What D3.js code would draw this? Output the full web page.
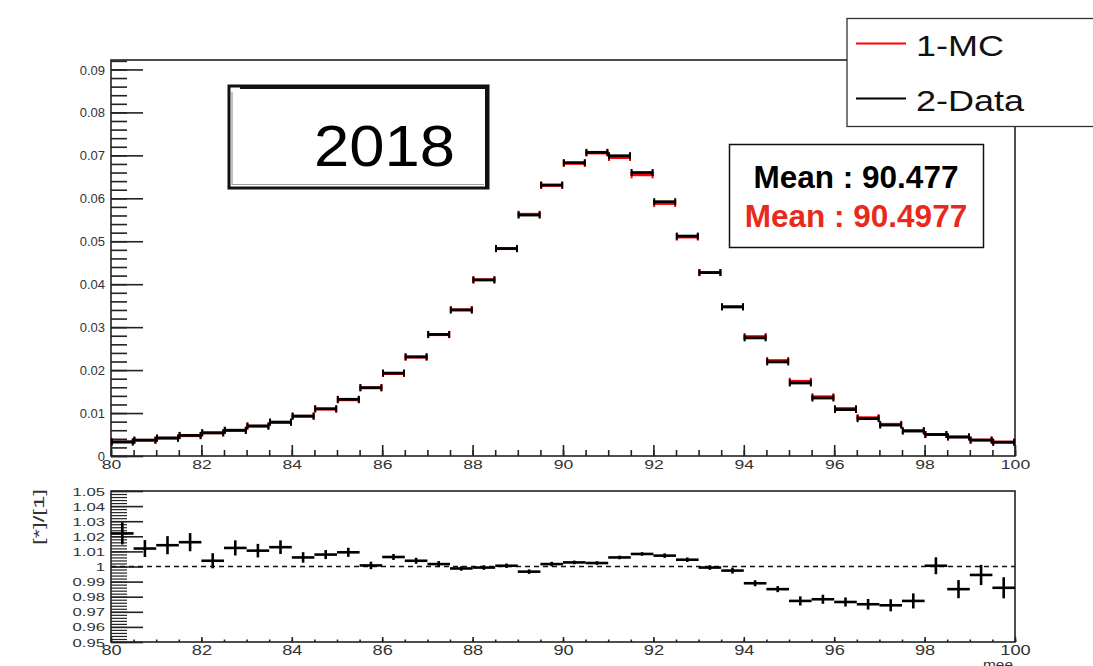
<!DOCTYPE html>
<html>
<head>
<meta charset="utf-8">
<script src="https://cdn.jsdelivr.net/npm/d3@7"></script>
<style>
  body { margin: 0; background: #fff; }
  text { font-family: "Liberation Sans", Arial, Helvetica, sans-serif; }
</style>
</head>
<body>
<svg id="chart" width="1093" height="666"></svg>
<script>
// Z -> ee invariant mass, 0.5 GeV bins from 80 to 100
const binLow = [80, 80.5, 81, 81.5, 82, 82.5, 83, 83.5, 84, 84.5,
                85, 85.5, 86, 86.5, 87, 87.5, 88, 88.5, 89, 89.5,
                90, 90.5, 91, 91.5, 92, 92.5, 93, 93.5, 94, 94.5,
                95, 95.5, 96, 96.5, 97, 97.5, 98, 98.5, 99, 99.5];
const binWidth = 0.5;

// normalised data histogram
const dataVals = [0.0033, 0.0037, 0.0042, 0.0048, 0.0054, 0.0060, 0.0070, 0.0079, 0.0093, 0.0110,
                  0.0132, 0.0159, 0.0193, 0.0231, 0.0283, 0.0340, 0.0410, 0.0483, 0.0561, 0.0631,
                  0.0683, 0.0707, 0.0699, 0.0660, 0.0592, 0.0512, 0.0427, 0.0347, 0.0275, 0.0219,
                  0.0170, 0.0135, 0.0108, 0.0087, 0.0072, 0.0058, 0.0050, 0.0044, 0.0037, 0.0032];

// normalised MC histogram
const mcVals = [0.00323, 0.00366, 0.00414, 0.00472, 0.00538, 0.00593, 0.00693, 0.00780, 0.00924, 0.01091,
                0.01308, 0.01589, 0.01918, 0.02301, 0.02825, 0.03404, 0.04103, 0.04828, 0.05629, 0.06300,
                0.06812, 0.07054, 0.06948, 0.06546, 0.05878, 0.05097, 0.04273, 0.03479, 0.02781, 0.02223,
                0.01740, 0.01380, 0.01106, 0.00892, 0.00739, 0.00594, 0.00500, 0.00447, 0.00372, 0.00325];

// data / MC ratio and its uncertainty
const ratioVals = [1.0219, 1.0119, 1.0141, 1.0161, 1.0038, 1.0123, 1.0105, 1.0128, 1.0060, 1.0079,
                   1.0094, 1.0007, 1.0063, 1.0038, 1.0016, 0.9987, 0.9993, 1.0005, 0.9966, 1.0016,
                   1.0027, 1.0023, 1.0060, 1.0083, 1.0072, 1.0045, 0.9993, 0.9973, 0.9889, 0.9850,
                   0.9772, 0.9783, 0.9765, 0.9750, 0.9743, 0.9772, 1.0005, 0.9850, 0.9944, 0.9859];
const ratioErrs = [0.0073, 0.0056, 0.0060, 0.0060, 0.0050, 0.0050, 0.0045, 0.0045, 0.0035, 0.0030,
                   0.0030, 0.0025, 0.0020, 0.0020, 0.0020, 0.0015, 0.0015, 0.0015, 0.0015, 0.0015,
                   0.0012, 0.0012, 0.0012, 0.0012, 0.0015, 0.0015, 0.0015, 0.0020, 0.0020, 0.0020,
                   0.0030, 0.0030, 0.0030, 0.0035, 0.0040, 0.0050, 0.0056, 0.0060, 0.0067, 0.0070];

const xTicks = [80, 82, 84, 86, 88, 90, 92, 94, 96, 98, 100];
const topYTicks = [0, 0.01, 0.02, 0.03, 0.04, 0.05, 0.06, 0.07, 0.08, 0.09];
const ratioYTicks = [0.95, 0.96, 0.97, 0.98, 0.99, 1, 1.01, 1.02, 1.03, 1.04, 1.05];
const legendLabels = ["1-MC", "2-Data"];
const legendColors = ["#ff0000", "#000000"];
const meanLabels = ["Mean : 90.477", "Mean : 90.4977"];
const meanColors = ["#000000", "#e8291c"];
const yearLabel = "2018";
const ratioTitle = "[*]/[1]";
const xTitle = "mee";

const svg = d3.select("#chart");
svg.append("rect").attr("width", 1093).attr("height", 666).attr("fill", "#fff");

const x = d3.scaleLinear().domain([80, 100]).range([111, 1015]);
const yTop = d3.scaleLinear().domain([0, 0.0922]).range([456, 60]);
const yRat = d3.scaleLinear().domain([0.95, 1.05]).range([642, 491]);

const frameColor = "#222";
const labelColor = "#333";

// widen glyphs horizontally by a factor
function stretch(sel, sx) {
  sel.each(function () {
    const w = this.getComputedTextLength();
    this.setAttribute("textLength", w * sx);
    this.setAttribute("lengthAdjust", "spacingAndGlyphs");
  });
}

function styleAxis(g, fontSize) {
  g.select(".domain").remove();
  g.selectAll(".tick line").attr("stroke", frameColor).attr("stroke-width", 1.6);
  g.selectAll(".tick text").attr("fill", labelColor).attr("font-size", fontSize)
    .attr("font-family", "\"Liberation Sans\", Arial, sans-serif");
}

// ---------- upper pad ----------
const fmtTop = d => d === 0 ? "0" : d3.format(".2f")(d);

const gyTopMinor = svg.append("g").attr("transform", "translate(111,0)")
  .call(d3.axisLeft(yTop).tickValues(d3.range(0, 0.0921, 0.002)).tickSize(-16).tickFormat(""));
styleAxis(gyTopMinor, 13);
const gyTop = svg.append("g").attr("transform", "translate(111,0)")
  .call(d3.axisLeft(yTop).tickValues(topYTicks).tickSize(-32).tickPadding(6).tickFormat(fmtTop));
styleAxis(gyTop, 13);
gyTop.selectAll(".tick text").attr("dy", "0.35em");

const gxTopMinor = svg.append("g").attr("transform", "translate(0,456)")
  .call(d3.axisBottom(x).tickValues(d3.range(80, 100.01, 0.5)).tickSize(-6).tickFormat(""));
styleAxis(gxTopMinor, 13);
const gxTop = svg.append("g").attr("transform", "translate(0,456)")
  .call(d3.axisBottom(x).tickValues(xTicks).tickSize(-11).tickPadding(3).tickFormat(d3.format("d")));
styleAxis(gxTop, 13.5);
stretch(gxTop.selectAll(".tick text"), 1.3);

svg.append("rect").attr("x", 111).attr("y", 60)
  .attr("width", x(100) - x(80)).attr("height", 456 - 60)
  .attr("fill", "none").attr("stroke", frameColor).attr("stroke-width", 1.6);

// histogram drawn as horizontal bin bars with end caps
function drawHist(vals, color) {
  const g = svg.append("g").attr("stroke", color).attr("fill", "none");
  vals.forEach((v, i) => {
    const x0 = x(binLow[i]), x1 = x(binLow[i] + binWidth), yy = yTop(v);
    g.append("line").attr("x1", x0).attr("x2", x1).attr("y1", yy).attr("y2", yy)
      .attr("stroke-width", 2.8);
    g.append("line").attr("x1", x0 + 0.8).attr("x2", x0 + 0.8).attr("y1", yy - 3.5).attr("y2", yy + 3.5)
      .attr("stroke-width", 2);
    g.append("line").attr("x1", x1 - 0.8).attr("x2", x1 - 0.8).attr("y1", yy - 3.5).attr("y2", yy + 3.5)
      .attr("stroke-width", 2);
  });
}
drawHist(mcVals, "#ff0000");
drawHist(dataVals, "#000");

// year box with a rough, doubled border
const yearG = svg.append("g");
yearG.append("rect").attr("x", 229).attr("y", 86).attr("width", 259).attr("height", 102)
  .attr("fill", "#fff").attr("stroke", "#111").attr("stroke-width", 3);
yearG.append("line").attr("x1", 240).attr("x2", 489).attr("y1", 88).attr("y2", 88)
  .attr("stroke", "#111").attr("stroke-width", 2);
yearG.append("line").attr("x1", 486).attr("x2", 486).attr("y1", 86).attr("y2", 188)
  .attr("stroke", "#111").attr("stroke-width", 2);
yearG.append("line").attr("x1", 232).attr("x2", 232).attr("y1", 92).attr("y2", 185)
  .attr("stroke", "#666").attr("stroke-width", 0.8);
yearG.append("line").attr("x1", 232).attr("x2", 484).attr("y1", 184.5).attr("y2", 184.5)
  .attr("stroke", "#777").attr("stroke-width", 0.7);
const yearText = yearG.append("text").attr("x", 314).attr("y", 166)
  .attr("font-size", 58).attr("fill", "#000").text(yearLabel);
yearText.attr("textLength", 141).attr("lengthAdjust", "spacingAndGlyphs");

// mean box
const meanG = svg.append("g");
meanG.append("rect").attr("x", 729.5).attr("y", 144.5).attr("width", 254).attr("height", 103)
  .attr("fill", "#fff").attr("stroke", "#111").attr("stroke-width", 1.5);
meanLabels.forEach((t, i) => {
  meanG.append("text").attr("x", 856).attr("y", i === 0 ? 188 : 226.5)
    .attr("text-anchor", "middle").attr("font-size", 31.5).attr("font-weight", "bold")
    .attr("fill", meanColors[i]).text(t);
});

// legend
const legG = svg.append("g");
legG.append("rect").attr("x", 847).attr("y", 18.5).attr("width", 260).attr("height", 108)
  .attr("fill", "#fff").attr("stroke", "#333").attr("stroke-width", 1.3);
legendLabels.forEach((t, i) => {
  const yy = i === 0 ? 43.5 : 98.5;
  legG.append("line").attr("x1", 856).attr("x2", 906).attr("y1", yy).attr("y2", yy)
    .attr("stroke", legendColors[i]).attr("stroke-width", 2);
  const tx = legG.append("text").attr("x", 916).attr("y", yy + 12)
    .attr("font-size", 29.5).attr("fill", "#111").text(t);
  stretch(tx, 1.22);
});

// ---------- ratio pad ----------
const fmtRat = d => String(+d.toFixed(2));

const gyRatMinor = svg.append("g").attr("transform", "translate(111,0)")
  .call(d3.axisLeft(yRat).tickValues(d3.range(0.95, 1.0501, 0.002)).tickSize(-16).tickFormat(""));
styleAxis(gyRatMinor, 11);
gyRatMinor.selectAll(".tick line").attr("stroke-width", 1.2);
const gyRat = svg.append("g").attr("transform", "translate(111,0)")
  .call(d3.axisLeft(yRat).tickValues(ratioYTicks).tickSize(-32).tickPadding(6).tickFormat(fmtRat));
styleAxis(gyRat, 11.5);
gyRat.selectAll(".tick text").attr("dy", "0.35em");
stretch(gyRat.selectAll(".tick text"), 1.45);

const gxRatMinor = svg.append("g").attr("transform", "translate(0,642)")
  .call(d3.axisBottom(x).tickValues(d3.range(80, 100.01, 0.5)).tickSize(-2.5).tickFormat(""));
styleAxis(gxRatMinor, 13);
const gxRat = svg.append("g").attr("transform", "translate(0,642)")
  .call(d3.axisBottom(x).tickValues(xTicks).tickSize(-5).tickPadding(3).tickFormat(d3.format("d")));
styleAxis(gxRat, 14);
stretch(gxRat.selectAll(".tick text"), 1.3);

svg.append("rect").attr("x", 111).attr("y", 491)
  .attr("width", x(100) - x(80)).attr("height", 642 - 491)
  .attr("fill", "none").attr("stroke", frameColor).attr("stroke-width", 1.6);

svg.append("line").attr("x1", x(80)).attr("x2", x(100)).attr("y1", yRat(1)).attr("y2", yRat(1))
  .attr("stroke", "#111").attr("stroke-width", 1.4).attr("stroke-dasharray", "5,4");

const ratG = svg.append("g").attr("stroke", "#000").attr("stroke-width", 2.6);
ratioVals.forEach((r, i) => {
  const x0 = x(binLow[i]), x1 = x(binLow[i] + binWidth), xc = (x0 + x1) / 2;
  ratG.append("line").attr("x1", x0).attr("x2", x1).attr("y1", yRat(r)).attr("y2", yRat(r));
  ratG.append("line").attr("x1", xc).attr("x2", xc)
    .attr("y1", yRat(r - ratioErrs[i])).attr("y2", yRat(r + ratioErrs[i]));
});

// axis titles
const yt = svg.append("text").attr("transform", "translate(44,545) rotate(-90)")
  .attr("font-size", 15).attr("fill", labelColor).text(ratioTitle);
yt.attr("textLength", 56).attr("lengthAdjust", "spacingAndGlyphs");
const xt = svg.append("text").attr("x", 1013).attr("y", 669).attr("text-anchor", "end")
  .attr("font-size", 12).attr("fill", labelColor).text(xTitle);
xt.attr("textLength", 30).attr("lengthAdjust", "spacingAndGlyphs");
</script>
</body>
</html>
